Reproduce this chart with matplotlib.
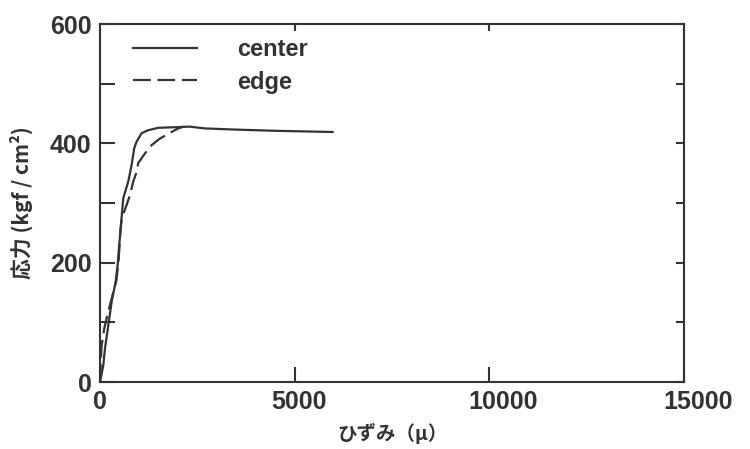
import matplotlib
matplotlib.use("Agg")
import matplotlib.pyplot as plt
from matplotlib.transforms import ScaledTranslation

# Data (strain in micro, stress in kgf/cm2)
center_strain = [0, 85, 128, 213, 300, 402, 453, 487, 538, 597, 726, 813, 879, 941, 1069, 1238, 1495, 1923, 2300, 2692, 3500, 4500, 5974]
center_stress = [0, 28, 56, 95, 135, 168, 196, 224, 263, 308, 336, 364, 392, 403, 417, 422, 426, 427, 428, 425, 423, 421, 419]

edge_strain = [0, 40, 110, 200, 300, 420, 480, 520, 556, 685, 769, 854, 941, 982, 1154, 1326, 1538, 1838, 2008, 2150]
edge_stress = [0, 60, 90, 115, 140, 170, 205, 250, 274, 297, 313, 336, 352, 367, 383, 397, 408, 419, 425, 428]

x_ticks = [0, 5000, 10000, 15000]
y_ticks = [0, 100, 200, 300, 400, 500, 600]
y_labels = ["0", "", "200", "", "400", "", "600"]

dark = "#333333"
tick_font = {"family": "Liberation Sans", "weight": "bold", "size": 18}

fig = plt.figure(figsize=(7.5, 4.49), dpi=100)
ax = fig.add_axes([100/750, 67/449, 584/750, 358/449])

ax.plot(center_strain, center_stress, color=dark, lw=1.6, label="center")
ax.plot(edge_strain, edge_stress, color=dark, lw=1.6, dashes=(8, 3), label="edge")

ax.set_xlim(0, 15000)
ax.set_ylim(0, 600)

for s in ax.spines.values():
    s.set_linewidth(1.5)
    s.set_color(dark)

ax.set_xticks(x_ticks)
ax.set_xticklabels([str(v) for v in x_ticks], fontdict=tick_font, color=dark)
ax.set_yticks(y_ticks)
ax.set_yticklabels(y_labels, fontdict=tick_font, color=dark)
ax.tick_params(axis="x", direction="in", length=11, width=1.5, color=dark, pad=6)
ax.tick_params(axis="y", direction="in", length=11, width=1.5, color=dark, pad=6)

# slight rightward offset of the larger x tick labels, as in the reference
shifts = [0, 4, 14, 14]
for lbl, sh in zip(ax.get_xticklabels(), shifts):
    lbl.set_transform(lbl.get_transform() + ScaledTranslation(sh / 100, 0, fig.dpi_scale_trans))

secx = ax.secondary_xaxis("top")
secx.set_xticks(x_ticks)
secx.set_xticklabels([])
secx.tick_params(direction="in", length=5, width=1.5, color=dark)
secx.spines["top"].set_visible(False)

secy = ax.secondary_yaxis("right")
secy.set_yticks(y_ticks)
secy.set_yticklabels([])
secy.tick_params(direction="in", length=6, width=1.5, color=dark)
secy.spines["right"].set_visible(False)

ax.set_xlabel("ひずみ（μ）", family=["Noto Sans CJK JP", "DejaVu Sans"], weight="bold", fontsize=14, color=dark, labelpad=6)
ax.set_ylabel("応力 (kgf / cm²)", family=["Noto Sans CJK JP", "DejaVu Sans"], weight="bold", fontsize=15, color=dark, labelpad=12)

leg = ax.legend(loc="upper left", bbox_to_anchor=(0.02, 1.02), frameon=False, handlelength=2.7, handletextpad=1.7,
                labelspacing=0.4, prop={"family": "Liberation Sans", "weight": "bold", "size": 17})
for t in leg.get_texts():
    t.set_color(dark)

fig.savefig("out.png", dpi=100)
